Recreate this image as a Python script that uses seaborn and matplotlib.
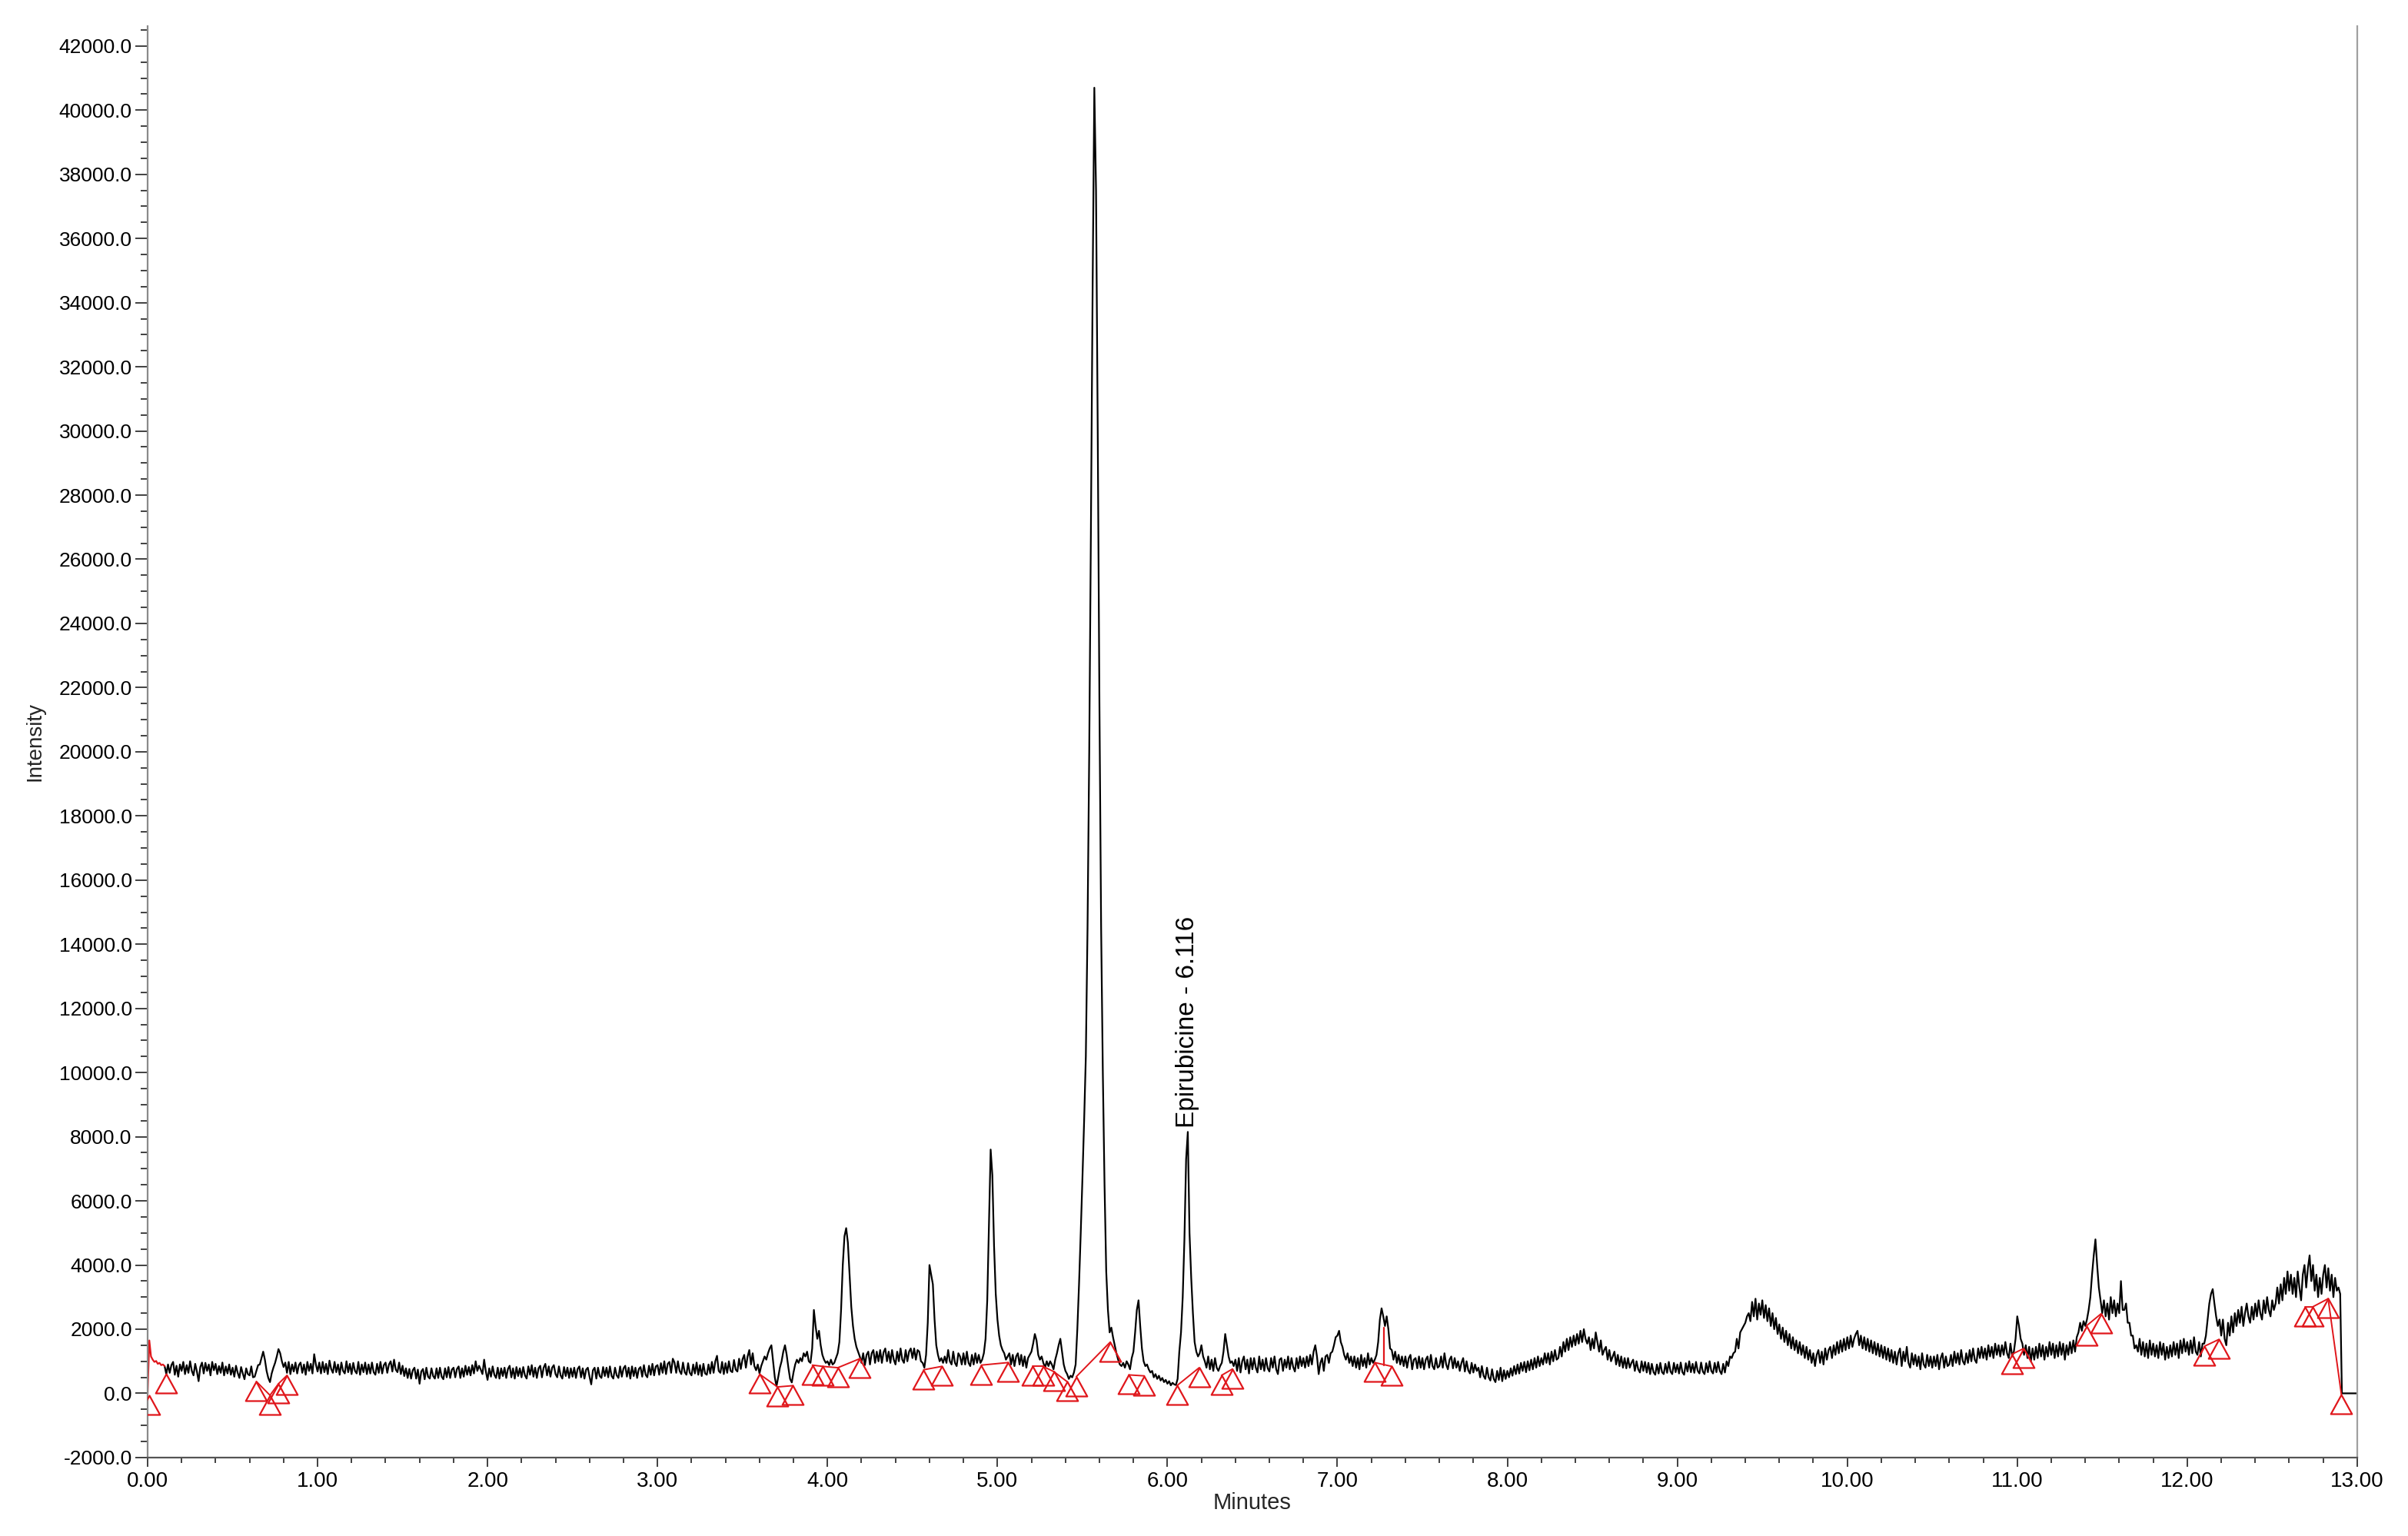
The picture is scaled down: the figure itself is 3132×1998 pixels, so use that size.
import numpy as np
import pandas as pd
import matplotlib
matplotlib.use("Agg")
import matplotlib.pyplot as plt
import seaborn as sns
from matplotlib.path import Path
from matplotlib.ticker import MultipleLocator, FormatStrFormatter

# ---------------- data ----------------
time_step = 0.01  # minutes between samples
intensity = [
    # 0.0 - 0.9
    0, 1650, 1150, 1050, 980, 1010, 920, 950, 880, 900,
    850, 600, 900, 640, 880, 980, 580, 860, 520, 900,
    700, 980, 600, 880, 640, 1000, 700, 560, 920, 680,
    380, 820, 960, 620, 950, 700, 900, 560, 980, 720,
    920, 600, 850, 640, 960, 560, 840, 620, 900, 580,
    800, 520, 860, 640, 480, 820, 620, 440, 780, 600,
    560, 840, 500, 520, 700, 880, 900, 1100, 1300, 1050,
    700, 480, 350, 620, 800, 950, 1150, 1380, 1250, 1000,
    820, 960, 640, 980, 600, 900, 680, 960, 620, 880,
    960, 640, 900, 580, 980, 700, 920, 620, 1220, 900,
    # 1.0 - 1.9
    680, 960, 620, 980, 660, 920, 600, 1020, 760, 640,
    980, 660, 900, 580, 960, 700, 620, 1000, 660, 920,
    600, 950, 700, 620, 980, 580, 900, 660, 960, 600,
    900, 620, 960, 660, 580, 920, 640, 980, 620, 880,
    960, 640, 900, 1000, 680, 1050, 740, 660, 960, 600,
    860, 540, 780, 480, 760, 460, 720, 800, 460, 740,
    300, 680, 760, 440, 800, 520, 460, 780, 540, 460,
    780, 480, 800, 520, 440, 780, 500, 820, 480, 740,
    800, 500, 760, 840, 480, 780, 520, 860, 580, 820,
    560, 880, 620, 1000, 700, 860, 740, 600, 1050, 680,
    # 2.0 - 2.9
    420, 780, 520, 840, 580, 480, 800, 460, 780, 540,
    800, 480, 760, 860, 500, 780, 460, 820, 540, 780,
    500, 820, 560, 460, 840, 580, 880, 520, 800, 480,
    780, 860, 500, 800, 920, 560, 840, 520, 800, 880,
    600, 500, 840, 560, 460, 820, 540, 800, 480, 780,
    520, 800, 480, 760, 840, 500, 780, 460, 740, 800,
    520, 280, 720, 800, 460, 800, 540, 480, 820, 540,
    800, 500, 840, 540, 460, 800, 560, 480, 840, 520,
    780, 860, 520, 800, 460, 840, 540, 800, 480, 760,
    820, 520, 880, 580, 500, 860, 580, 920, 560, 840,
    # 3.0 - 3.9
    880, 580, 940, 640, 1000, 600, 920, 980, 640, 1080,
    960, 640, 1000, 700, 600, 960, 660, 580, 940, 640,
    560, 900, 620, 960, 580, 880, 540, 920, 620, 580,
    900, 620, 980, 640, 1000, 1170, 700, 640, 980, 600,
    940, 640, 1000, 700, 660, 1040, 740, 680, 1080, 760,
    1060, 1200, 800, 1150, 1350, 900, 1250, 850, 720, 900,
    620, 850, 1000, 1150, 1050, 1250, 1400, 1500, 1000, 500,
    220, 500, 800, 1000, 1300, 1500, 1200, 800, 450, 340,
    650, 900, 1050, 950, 1100, 1000, 1250, 1150, 1300, 1000,
    950, 1400, 2600, 2100, 1700, 1950, 1500, 1200, 1050, 950,
    # 4.0 - 4.9
    1000, 880, 1050, 900, 950, 1100, 1250, 1600, 2600, 4000,
    4900, 5150, 4700, 3700, 2700, 2100, 1700, 1450, 1300, 1150,
    950, 1250, 880, 1200, 1300, 900, 1250, 1350, 950, 1300,
    1000, 1350, 950, 1280, 1400, 1000, 1300, 950, 1350, 1050,
    900, 1300, 1000, 1400, 1050, 950, 1350, 1000, 1300, 1400,
    1100, 1400, 1050, 1350, 1300, 1000, 950, 800, 1200, 2200,
    4000, 3700, 3400, 2300, 1500, 1200, 1000, 1100, 950, 1150,
    950, 1350, 1000, 900, 1300, 950, 850, 1250, 1150, 900,
    1250, 900, 1300, 950, 850, 1200, 900, 1250, 950, 1200,
    950, 1050, 1250, 1700, 2900, 5200, 7600, 6800, 4600, 3100,
    # 5.0 - 5.9
    2300, 1800, 1500, 1350, 1250, 1050, 1150, 1250, 900, 1200,
    850, 1150, 1250, 900, 1200, 850, 1150, 800, 1100, 1200,
    1300, 1550, 1850, 1650, 1200, 1050, 1150, 950, 800, 1000,
    850, 1000, 900, 750, 1050, 1250, 1500, 1700, 1300, 900,
    700, 600, 450, 550, 500, 650, 900, 2000, 3400, 5000,
    6700, 8500, 10500, 14500, 20000, 27000, 34500, 40700, 37500, 30000,
    21500, 14500, 10000, 6500, 3800, 2600, 1900, 2050, 1750, 1500,
    1250, 1050, 900, 850, 950, 800, 1000, 900, 750, 1100,
    1300, 1900, 2600, 2900, 2100, 1400, 1000, 850, 900, 750,
    650, 700, 500, 600, 450, 550, 400, 480, 350, 420,
    # 6.0 - 6.9
    300, 380, 250, 330, 280, 260, 450, 1300, 1900, 3000,
    4800, 7300, 8150, 5000, 3600, 2500, 1600, 1300, 1150, 1250,
    1500, 1150, 1000, 800, 1150, 750, 1050, 700, 1100, 800,
    700, 850, 950, 1300, 1850, 1500, 1150, 950, 1000, 850,
    1050, 700, 1100, 650, 1000, 1150, 750, 1050, 620, 1100,
    750, 1100, 800, 650, 1150, 750, 1050, 700, 1100, 780,
    680, 1100, 800, 1150, 750, 600, 1050, 1100, 700, 1050,
    800, 1150, 750, 1100, 820, 680, 1100, 780, 1150, 850,
    1100, 800, 1150, 850, 1200, 900, 1300, 1500, 1150, 600,
    950, 1100, 700, 1150, 1200, 950, 1250, 1300, 1500, 1750,
    # 7.0 - 7.9
    1800, 1950, 1600, 1450, 1200, 1050, 1250, 950, 1150, 850,
    1150, 800, 1100, 750, 1200, 850, 1100, 800, 1250, 900,
    1100, 950, 1050, 1200, 1600, 2300, 2650, 2400, 2100, 2400,
    2000, 1400, 1350, 1050, 1300, 950, 1200, 900, 1150, 850,
    1150, 800, 1100, 1200, 750, 1050, 1100, 780, 1150, 800,
    1100, 750, 1050, 1150, 800, 1200, 850, 750, 1100, 800,
    850, 1150, 800, 1250, 900, 750, 1050, 1150, 780, 1100,
    800, 1000, 700, 950, 1100, 680, 1000, 720, 620, 950,
    650, 900, 700, 800, 500, 850, 550, 450, 800, 500,
    400, 750, 450, 350, 700, 420, 800, 380, 720, 450,
    # 8.0 - 8.9
    700, 500, 780, 550, 850, 600, 900, 620, 950, 700,
    980, 660, 1000, 720, 1050, 750, 1100, 800, 1150, 850,
    1100, 900, 1250, 950, 1250, 900, 1300, 1000, 1350, 1050,
    1100, 1450, 1150, 1600, 1300, 1700, 1350, 1750, 1450, 1800,
    1500, 1850, 1550, 1950, 1600, 2000, 1700, 1550, 1750, 1350,
    1700, 1400, 1900, 1600, 1300, 1650, 1200, 1350, 1450, 1050,
    1350, 1000, 1150, 1300, 900, 1200, 850, 1150, 800, 1100,
    780, 1100, 800, 950, 1050, 700, 1000, 750, 650, 1000,
    700, 980, 650, 950, 600, 920, 660, 580, 900, 620,
    950, 660, 600, 920, 640, 980, 680, 600, 950, 660,
    # 9.0 - 9.9
    900, 620, 960, 660, 580, 940, 680, 1000, 660, 920,
    640, 980, 700, 620, 960, 680, 600, 940, 660, 1000,
    700, 620, 950, 660, 980, 700, 600, 920, 650, 1000,
    850, 1150, 1100, 1250, 1300, 1700, 1400, 1900, 2000, 2100,
    2200, 2400, 2500, 2250, 2850, 2400, 2950, 2300, 2800, 2450,
    2900, 2350, 2750, 2250, 2650, 2100, 2500, 2000, 2350, 1850,
    2150, 1700, 2050, 1600, 1950, 1500, 1850, 1400, 1750, 1350,
    1650, 1250, 1600, 1200, 1500, 1100, 1450, 1050, 1350, 950,
    1250, 850, 1200, 1350, 950, 1300, 900, 1400, 1050, 1350,
    1450, 1100, 1500, 1200, 1600, 1250, 1650, 1300, 1700, 1350,
    # 10.0 - 10.9
    1750, 1400, 1800, 1450, 1700, 1850, 1950, 1500, 1800, 1400,
    1750, 1350, 1700, 1300, 1650, 1250, 1600, 1200, 1550, 1150,
    1500, 1100, 1450, 1050, 1400, 1000, 1350, 950, 1300, 900,
    1250, 1400, 850, 1300, 1000, 1450, 950, 800, 1250, 900,
    1200, 850, 1150, 750, 1250, 900, 800, 1200, 850, 1150,
    800, 1150, 850, 1200, 750, 1100, 1250, 800, 1150, 850,
    900, 1200, 850, 1300, 950, 1250, 900, 1350, 1000, 900,
    1250, 950, 1350, 1000, 1400, 1050, 950, 1400, 1100, 1450,
    1100, 1400, 1050, 1500, 1150, 1450, 1100, 1550, 1200, 1500,
    1150, 1500, 1200, 1600, 1250, 1100, 1550, 1150, 1300, 1700,
    # 11.0 - 11.9
    2400, 2100, 1700, 1550, 1200, 1500, 1100, 1450, 1000, 1400,
    1050, 1450, 1100, 1550, 1150, 1500, 1050, 1450, 1150, 1600,
    1200, 1550, 1100, 1500, 1150, 1600, 1200, 1550, 1050, 1500,
    1200, 1600, 1250, 1650, 1300, 1750, 1900, 2200, 1950, 2250,
    2100, 2300, 2600, 3000, 3700, 4300, 4800, 4000, 3300, 2900,
    2500, 2900, 2400, 2800, 2300, 3000, 2500, 2900, 2400, 2800,
    2500, 3500, 2600, 2600, 2800, 2200, 2200, 1800, 1800, 1400,
    1500, 1300, 1700, 1200, 1600, 1150, 1550, 1100, 1650, 1200,
    1550, 1150, 1500, 1100, 1600, 1200, 1550, 1050, 1450, 1100,
    1500, 1150, 1600, 1200, 1550, 1100, 1650, 1250, 1700, 1300,
    # 12.0 - 12.9
    1600, 1200, 1650, 1250, 1750, 1300, 1200, 1600, 1150, 1550,
    1550, 1800, 2300, 2800, 3100, 3250, 2800, 2400, 2100, 2300,
    1800, 2300, 1700, 1500, 2200, 1800, 2400, 1900, 2500, 2100,
    2600, 2200, 2700, 2100, 2500, 2800, 2400, 2200, 2700, 2300,
    2800, 2400, 2900, 2500, 2300, 2900, 2500, 3000, 2600, 2400,
    2900, 2600, 2800, 3300, 2800, 3400, 2900, 3600, 3100, 3800,
    3200, 3700, 3100, 3600, 3000, 3800, 3300, 2900, 3700, 4000,
    3300, 3900, 4300, 3500, 4000, 3200, 3700, 3000, 3600, 3100,
    3700, 4000, 3300, 3900, 3200, 3700, 3000, 3600, 3200, 3300,
    3100, 0, 0, 0, 0, 0, 0, 0, 0, 0,
    # 13.0
    0,
]
start_segment_end = 0.10  # initial part of the trace drawn in red

# peak start / end markers (integration events)
tri_time = [0.01, 0.11, 0.64, 0.72, 0.77, 0.82, 3.60, 3.706, 3.797, 3.911,
            3.973, 4.061, 4.19, 4.566, 4.672, 4.905, 5.063, 5.207, 5.268, 5.331,
            5.411, 5.464, 5.664, 5.773, 5.864, 6.056, 6.187, 6.318, 6.383, 7.22,
            7.32, 10.969, 11.035, 11.406, 11.493, 12.102, 12.186, 12.695, 12.736,
            12.829, 12.907]
tri_intensity = [-50, 600, 370, -60, 300, 560, 600, 200, 240, 880,
                 840, 800, 1080, 735, 840, 880, 960, 840, 840, 680,
                 360, 520, 1600, 575, 545, 240, 800, 560, 760, 960,
                 840, 1220, 1390, 2100, 2480, 1470, 1680, 2690, 2690,
                 2950, -40]
# baselines drawn between pairs of markers (indices into the lists above)
baseline_pairs = [(2, 3), (3, 4), (4, 5), (6, 7), (7, 8), (9, 10), (10, 11),
                  (11, 12), (13, 14), (15, 16), (17, 18), (18, 19), (19, 20),
                  (21, 22), (23, 24), (25, 26), (27, 28), (29, 30), (31, 32),
                  (33, 34), (35, 36), (37, 38), (38, 39), (39, 40)]
drop_line_time = [7.273, 7.273]
drop_line_intensity = [880, 2050]

peak_label = "Epirubicine - 6.116"
peak_rt = 6.116
peak_height = 8150

# ---------------- plotting ----------------
sns.set_style("ticks")
plt.rcParams["font.family"] = ["Liberation Sans", "DejaVu Sans"]

RED = "#e0161b"
minutes = np.round(np.arange(len(intensity)) * time_step, 2)
trace = pd.DataFrame({"Minutes": minutes, "Intensity": intensity})

fig = plt.figure(figsize=(15.66, 9.99), dpi=200)
ax = fig.add_axes([0.0613, 0.0511, 0.9176, 0.9319])

head = trace[trace["Minutes"] <= start_segment_end]
body = trace[trace["Minutes"] >= start_segment_end]
sns.lineplot(data=body, x="Minutes", y="Intensity", color="black",
             linewidth=0.8, estimator=None, sort=False, ax=ax)
sns.lineplot(data=head, x="Minutes", y="Intensity", color=RED,
             linewidth=0.8, estimator=None, sort=False, ax=ax)

for i, j in baseline_pairs:
    ax.plot([tri_time[i], tri_time[j]], [tri_intensity[i], tri_intensity[j]],
            color=RED, linewidth=0.7, zorder=3)
ax.plot(drop_line_time, drop_line_intensity, color=RED, linewidth=0.8, zorder=3)

tri_marker = Path([(0, 0), (-0.55, -1), (0.55, -1), (0, 0)],
                  [Path.MOVETO, Path.LINETO, Path.LINETO, Path.CLOSEPOLY])
ax.plot(tri_time, tri_intensity, linestyle="none", marker=tri_marker,
        markersize=18, markerfacecolor="none", markeredgecolor=RED,
        markeredgewidth=0.8, zorder=4)

ax.text(peak_rt, peak_height + 120, peak_label, rotation=90, ha="center",
        va="bottom", fontsize=12, color="black")

ax.set_xlim(0, 13)
ax.set_ylim(-2000, 42620)
ax.xaxis.set_major_locator(MultipleLocator(1.0))
ax.xaxis.set_minor_locator(MultipleLocator(0.2))
ax.yaxis.set_major_locator(MultipleLocator(2000))
ax.yaxis.set_minor_locator(MultipleLocator(500))
ax.xaxis.set_major_formatter(FormatStrFormatter("%.2f"))
ax.yaxis.set_major_formatter(FormatStrFormatter("%.1f"))

ax.tick_params(axis="y", which="major", length=5.8, width=0.7, pad=1.5,
               labelsize=9.5, color="#404040", labelcolor="black")
ax.tick_params(axis="y", which="minor", length=3.1, width=0.7, color="#404040")
ax.tick_params(axis="x", which="major", length=4.4, width=0.7, pad=2,
               labelsize=10, color="#404040", labelcolor="black")
ax.tick_params(axis="x", which="minor", length=2.6, width=0.7, color="#404040")

ax.spines["top"].set_visible(False)
ax.spines["left"].set_color("#8a8a8a")
ax.spines["left"].set_linewidth(0.8)
ax.spines["bottom"].set_color("#555555")
ax.spines["bottom"].set_linewidth(0.8)
ax.spines["right"].set_color("#a0a0a0")
ax.spines["right"].set_linewidth(0.8)

ax.set_xlabel("Minutes", fontsize=10.5)
ax.set_ylabel("Intensity", fontsize=10)
ax.xaxis.set_label_coords(0.5, -0.024)
ax.yaxis.set_label_coords(-0.0466, 0.5)

fig.savefig("out.png", dpi=200, facecolor="white")
